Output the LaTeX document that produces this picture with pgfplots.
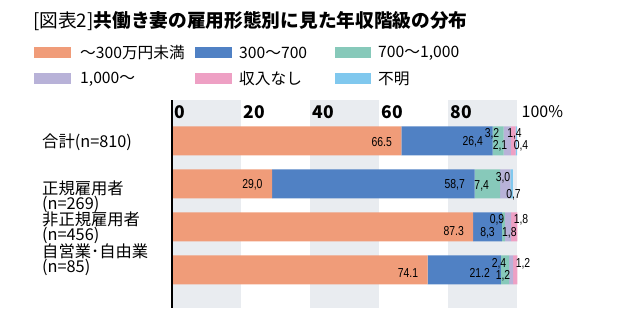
\documentclass[border=0pt]{standalone}
\usepackage{fontspec}
\usepackage{pgfplots}
\pgfplotsset{compat=1.18}
\setmainfont{Noto Sans CJK JP}
\newfontfamily\numfont[FakeStretch=0.8]{Liberation Sans}
\definecolor{c1}{RGB}{240,156,121}
\definecolor{c2}{RGB}{80,129,196}
\definecolor{c3}{RGB}{135,201,186}
\definecolor{c4}{RGB}{184,178,216}
\definecolor{c5}{RGB}{238,160,196}
\definecolor{c6}{RGB}{128,200,238}
\definecolor{band}{RGB}{233,236,240}
\newcommand\vlab{\numfont\fontsize{13bp}{13bp}\selectfont}
\newcommand\lgd{\fontsize{15.7bp}{16bp}\selectfont}
\newcommand\catl{\fontsize{16.3bp}{17bp}\selectfont}
\begin{document}
\begin{tikzpicture}
\useasboundingbox (0,0) rectangle (617bp,-328bp);
% title
\node[anchor=west, inner sep=0] at (33bp,-21bp) {\fontsize{18.7bp}{20bp}\selectfont [図表2]\bfseries 共働き妻の雇用形態別に見た年収階級の分布};
% legend
\fill[c1] (34bp,-47bp) rectangle (71bp,-58bp);
\node[anchor=west, inner sep=0] at (80bp,-53bp) {\lgd ～300万円未満};
\fill[c2] (195bp,-47bp) rectangle (232bp,-58bp);
\node[anchor=west, inner sep=0] at (239bp,-53bp) {\lgd 300～700};
\fill[c3] (335bp,-47bp) rectangle (371bp,-58bp);
\node[anchor=west, inner sep=0] at (378bp,-53bp) {\lgd 700～1,000};
\fill[c4] (34bp,-73bp) rectangle (71bp,-84bp);
\node[anchor=west, inner sep=0] at (80bp,-79bp) {\lgd 1,000～};
\fill[c5] (195bp,-73bp) rectangle (232bp,-84bp);
\node[anchor=west, inner sep=0] at (239bp,-79bp) {\lgd 収入なし};
\fill[c6] (335bp,-73bp) rectangle (371bp,-84bp);
\node[anchor=west, inner sep=0] at (378bp,-79bp) {\lgd 不明};
% grid bands (0-20, 40-60, 80-100)
\fill[band] (172bp,-100bp) rectangle (241bp,-308bp);
\fill[band] (310bp,-100bp) rectangle (379bp,-308bp);
\fill[band] (448bp,-100bp) rectangle (517bp,-308bp);
\begin{axis}[
  at={(172bp,-308bp)}, anchor=south west,
  width=345bp, height=208bp, scale only axis,
  xmin=0, xmax=100, ymin=-0.884, ymax=3.953,
  xbar stacked, bar width=29bp,
  axis line style={draw=none},
  xtick={0,20,40,60,80,100},
  xticklabels={{\bfseries 0},{\bfseries 20},{\bfseries 40},{\bfseries 60},{\bfseries 80},{\hspace{2bp}\fontsize{16bp}{16bp}\selectfont 100\%}},
  xticklabel pos=upper,
  xticklabel style={anchor=west, inner sep=0, yshift=-12bp, xshift=2.5bp, font=\fontsize{17.5bp}{18bp}\selectfont},
  major tick length=0,
  ytick=\empty,
  clip=false,
]
\addplot[fill=c1, draw=none] coordinates {(66.5,3) (29.0,2) (87.3,1) (74.1,0)};
\addplot[fill=c2, draw=none] coordinates {(26.4,3) (58.7,2) (8.3,1) (21.2,0)};
\addplot[fill=c3, draw=none] coordinates {(3.2,3) (7.4,2) (0.9,1) (2.4,0)};
\addplot[fill=c4, draw=none] coordinates {(2.1,3) (3.0,2) (1.8,1) (1.2,0)};
\addplot[fill=c5, draw=none] coordinates {(1.4,3) (0,2) (1.8,1) (1.2,0)};
\addplot[fill=c6, draw=none] coordinates {(0.4,3) (0.7,2) (0,1) (0,0)};
\coordinate (top) at (axis cs:0,3.953);
\coordinate (bot) at (axis cs:0,-0.884);
\coordinate (a1) at (axis cs:63.77,2.984);
\coordinate (a2) at (axis cs:90.14,2.984);
\coordinate (a3) at (axis cs:92.75,3.163);
\coordinate (a4) at (axis cs:95.07,2.884);
\coordinate (a5) at (axis cs:99.28,3.163);
\coordinate (a6) at (axis cs:101.16,2.884);
\coordinate (b1) at (axis cs:26.29,1.977);
\coordinate (b2) at (axis cs:84.93,1.977);
\coordinate (b3) at (axis cs:89.77,1.953);
\coordinate (b4) at (axis cs:95.94,2.140);
\coordinate (b5) at (axis cs:98.99,1.751);
\coordinate (c1) at (axis cs:84.64,0.907);
\coordinate (c2) at (axis cs:91.45,0.860);
\coordinate (c3) at (axis cs:94.20,1.156);
\coordinate (c4) at (axis cs:97.77,0.860);
\coordinate (c5) at (axis cs:101.16,1.163);
\coordinate (d1) at (axis cs:71.39,-0.063);
\coordinate (d2) at (axis cs:92.17,-0.07);
\coordinate (d3) at (axis cs:94.78,0.140);
\coordinate (d4) at (axis cs:95.94,-0.140);
\coordinate (d5) at (axis cs:101.74,0.140);
\end{axis}
\draw[black, line width=1.3bp] (top) -- (bot);
% value labels
\begin{scope}[every node/.style={inner sep=0, font=\vlab}]
\node[anchor=east] at (a1) {66.5};
\node[anchor=east] at (a2) {26,4};
\node at (a3) {3,2};
\node at (a4) {2,1};
\node at (a5) {1,4};
\node at (a6) {0,4};
\node[anchor=east] at (b1) {29,0};
\node[anchor=east] at (b2) {58,7};
\node at (b3) {7,4};
\node at (b4) {3,0};
\node at (b5) {0,7};
\node[anchor=east] at (c1) {87.3};
\node at (c2) {8,3};
\node at (c3) {0,9};
\node at (c4) {1,8};
\node at (c5) {1,8};
\node[anchor=east] at (d1) {74.1};
\node[anchor=east] at (d2) {21.2};
\node at (d3) {2,4};
\node at (d4) {1,2};
\node at (d5) {1,2};
\end{scope}
% category labels
\node[anchor=west, inner sep=0] at (42bp,-142bp) {\catl 合計(n=810)};
\node[anchor=west, inner sep=0] at (42bp,-188bp) {\catl 正規雇用者};
\node[anchor=west, inner sep=0] at (42bp,-204bp) {\catl (n=269)};
\node[anchor=west, inner sep=0] at (42bp,-219bp) {\catl 非正規雇用者};
\node[anchor=west, inner sep=0] at (42bp,-235bp) {\catl (n=456)};
\node[anchor=west, inner sep=0] at (42bp,-251bp) {\catl 自営業･自由業};
\node[anchor=west, inner sep=0] at (42bp,-267bp) {\catl (n=85)};
\end{tikzpicture}
\end{document}
